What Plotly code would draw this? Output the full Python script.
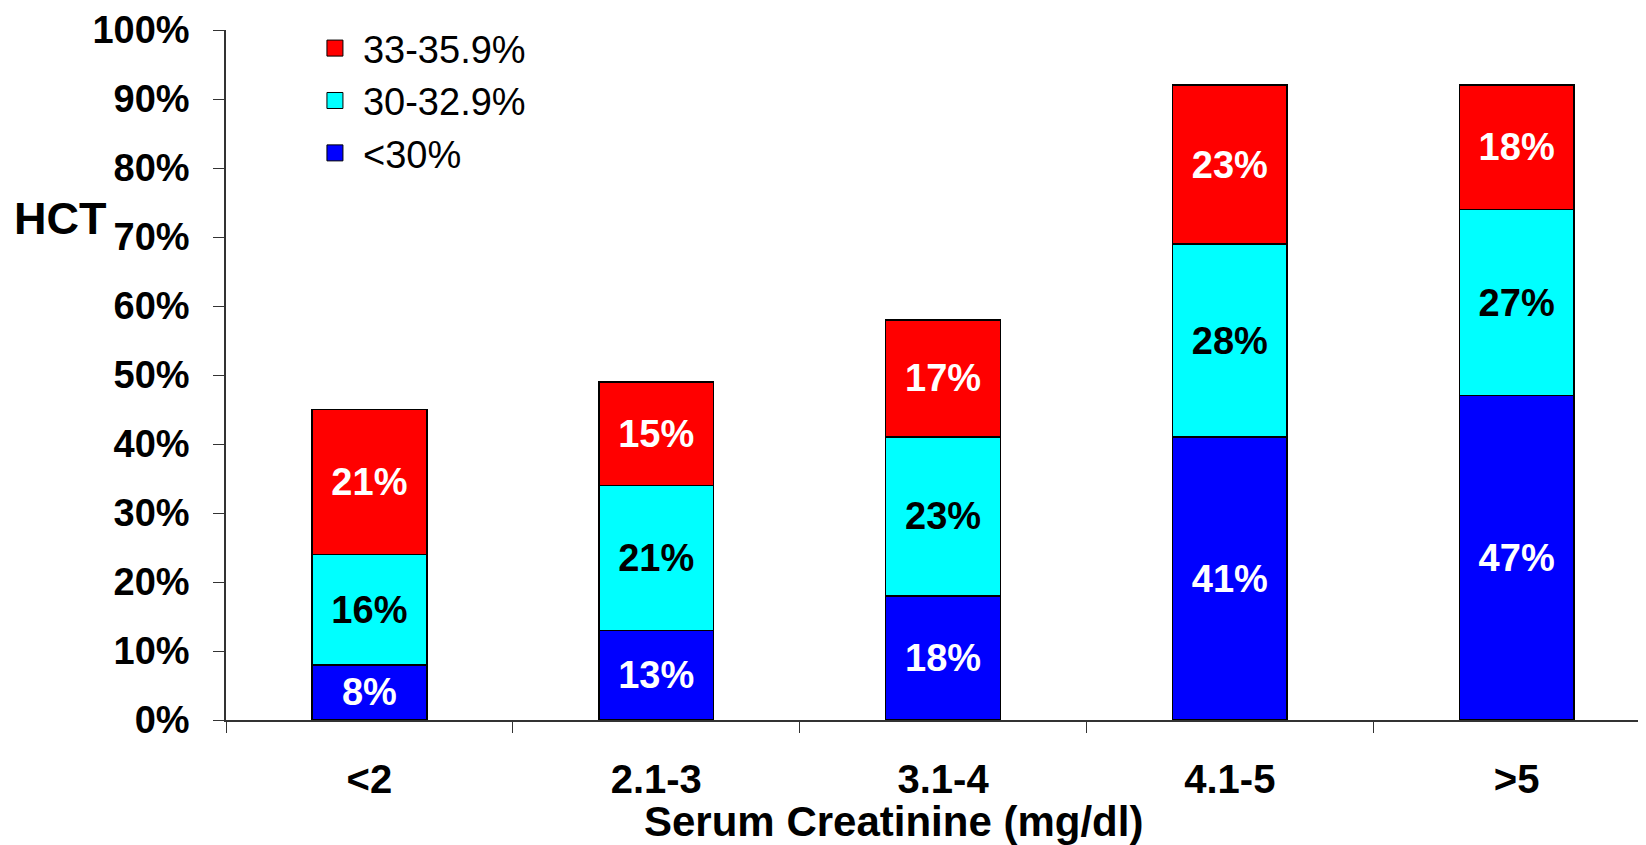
import plotly.graph_objects as go

categories = ["<2", "2.1-3", "3.1-4", "4.1-5", ">5"]
series_names = ["<30%", "30-32.9%", "33-35.9%"]
below_30 = [8, 13, 18, 41, 47]
from_30_to_32_9 = [16, 21, 23, 28, 27]
from_33_to_35_9 = [21, 15, 17, 23, 18]
y_ticks = [0, 10, 20, 30, 40, 50, 60, 70, 80, 90, 100]

series_values = [below_30, from_30_to_32_9, from_33_to_35_9]
colors = ["#0000FF", "#00FFFF", "#FF0000"]
text_colors = ["white", "black", "white"]
FONT = "Liberation Sans, Arial, sans-serif"

fig = go.Figure()
for name, vals, col, tcol in zip(series_names, series_values, colors, text_colors):
    fig.add_trace(go.Bar(
        x=categories, y=vals, name=name, showlegend=False,
        marker=dict(color=col, line=dict(color="black", width=1.5)),
        text=[f"<b>{v}%</b>" for v in vals],
        textposition="inside", insidetextanchor="middle",
        textfont=dict(family=FONT, size=38, color=tcol),
        width=0.4,
    ))

# legend entries (reverse order as in reference)
for name, col in reversed(list(zip(series_names, colors))):
    fig.add_trace(go.Scatter(
        x=[None], y=[None], mode="markers", name=name,
        marker=dict(symbol="square", size=16, color=col, line=dict(color="black", width=1)),
    ))

fig.update_layout(
    barmode="stack",
    width=1638, height=837,
    margin=dict(l=218, r=0, t=22, b=125),
    paper_bgcolor="white", plot_bgcolor="white",
    font=dict(family=FONT, color="black"),
    uniformtext=dict(minsize=38, mode="show"),
    legend=dict(
        x=0.057, y=1.019, xanchor="left", yanchor="top",
        traceorder="normal",
        font=dict(family=FONT, size=38, color="black"),
        bgcolor="rgba(0,0,0,0)", itemwidth=46,
    ),
    xaxis=dict(
        range=[-0.5, 4.451],
        showline=True, linecolor="#333333", linewidth=1.5,
        ticks="outside", ticklen=11, tickcolor="#333333", tickwidth=1.2,
        tickson="boundaries",
        tickfont=dict(family=FONT, size=40, color="black"),
        ticklabelstandoff=23,
        showgrid=False,
    ),
    yaxis=dict(
        range=[0, 100], tickvals=y_ticks, ticktext=[f"<b>{v}%</b>" for v in y_ticks],
        showline=True, linecolor="#333333", linewidth=1.5,
        ticks="outside", ticklen=11, tickcolor="#333333", tickwidth=1.2,
        tickfont=dict(family=FONT, size=38, color="black"),
        ticklabelstandoff=16,
        showgrid=False, zeroline=False,
    ),
    annotations=[
        dict(text="<b>Serum Creatinine (mg/dl)</b>", xref="paper", yref="paper",
             x=0.47, y=-0.147, xanchor="center", yanchor="middle", showarrow=False,
             font=dict(family=FONT, size=42, color="black")),
        dict(text="<b>HCT</b>", xref="paper", yref="paper",
             x=-0.117, y=0.7275, xanchor="center", yanchor="middle", showarrow=False,
             font=dict(family=FONT, size=45, color="black")),
    ],
)
fig.update_xaxes(ticktext=[f"<b>{c}</b>" for c in categories], tickvals=categories)

fig.write_html("out.html")
